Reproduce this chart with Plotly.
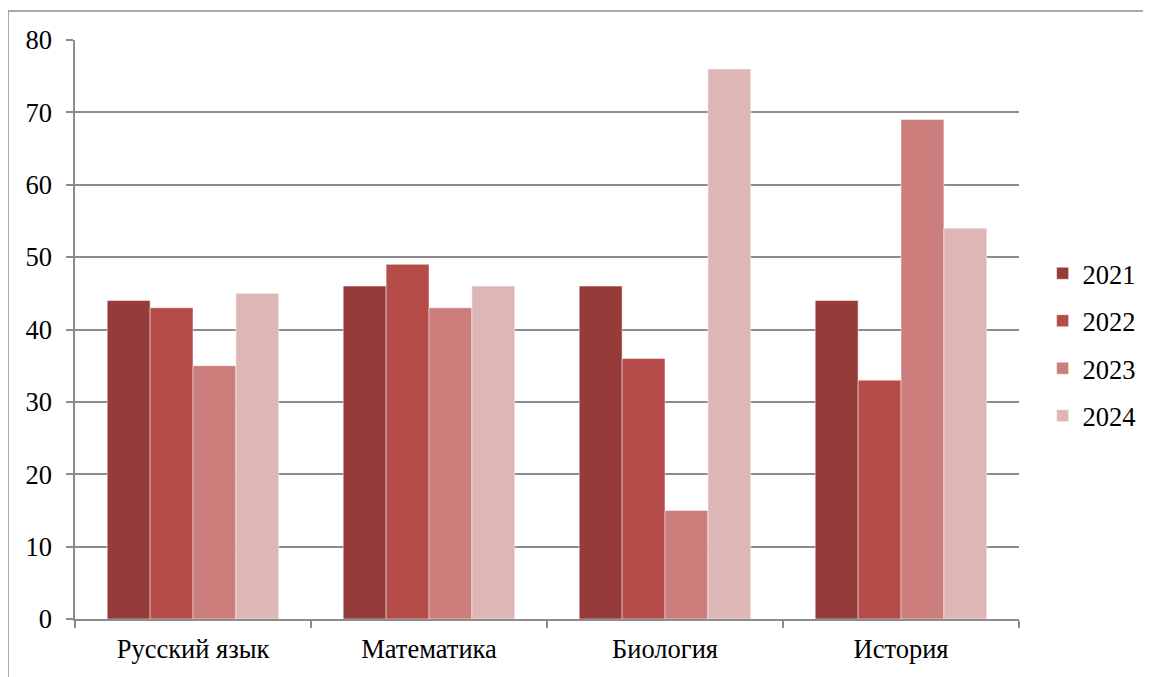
import plotly.graph_objects as go

categories = ["Русский язык", "Математика", "Биология", "История"]
years = ["2021", "2022", "2023", "2024"]
v2021 = [44, 46, 46, 44]
v2022 = [43, 49, 36, 33]
v2023 = [35, 43, 15, 69]
v2024 = [45, 46, 76, 54]
series = [v2021, v2022, v2023, v2024]
colors = ["#953B3A", "#B54C4A", "#CC7E7D", "#DFB6B6"]
y_ticks = [0, 10, 20, 30, 40, 50, 60, 70, 80]

fig = go.Figure()
for name, vals, col in zip(years, series, colors):
    fig.add_trace(go.Bar(
        x=categories, y=vals, name=name, legendgroup=name,
        marker=dict(color=col, line=dict(color="rgba(255,255,255,0.6)", width=0.8)),
    ))

font = dict(family="'Times New Roman', Times, 'Liberation Serif', 'DejaVu Serif', serif",
            size=26.5, color="#000000")

fig.update_layout(
    width=1151, height=677,
    paper_bgcolor="white", plot_bgcolor="white",
    margin=dict(l=67, r=140, t=32, b=66),
    font=font,
    barmode="group", bargap=0.273, bargroupgap=0,
    showlegend=True,
    legend=dict(x=1.025, y=0.474, xanchor="left", yanchor="middle",
                font=font, tracegroupgap=10, traceorder="grouped",
                itemwidth=30),
    xaxis=dict(type="category", showline=True, linecolor="#8C8C8C", linewidth=1.5,
               ticks="outside", tickson="boundaries", ticklen=7, tickcolor="#8C8C8C",
               tickwidth=1.5, showgrid=False, ticklabelstandoff=5),
    yaxis=dict(range=[0, 80], tickvals=y_ticks, showline=True, linecolor="#8C8C8C",
               linewidth=1.5, ticks="outside", ticklen=7, tickcolor="#8C8C8C",
               tickwidth=1.5, showgrid=True, gridcolor="#8C8C8C", gridwidth=1.5,
               zeroline=False, ticklabelstandoff=9),
)

# outer chart border (top and left visible)
fig.add_shape(type="line", xref="paper", yref="paper", x0=-0.071, x1=1.2, y0=1.050, y1=1.050,
              line=dict(color="#8C8C8C", width=1.5))
fig.add_shape(type="line", xref="paper", yref="paper", x0=-0.071, x1=-0.071, y0=-0.2, y1=1.050,
              line=dict(color="#8C8C8C", width=1.5))

fig.write_html("out.html")
